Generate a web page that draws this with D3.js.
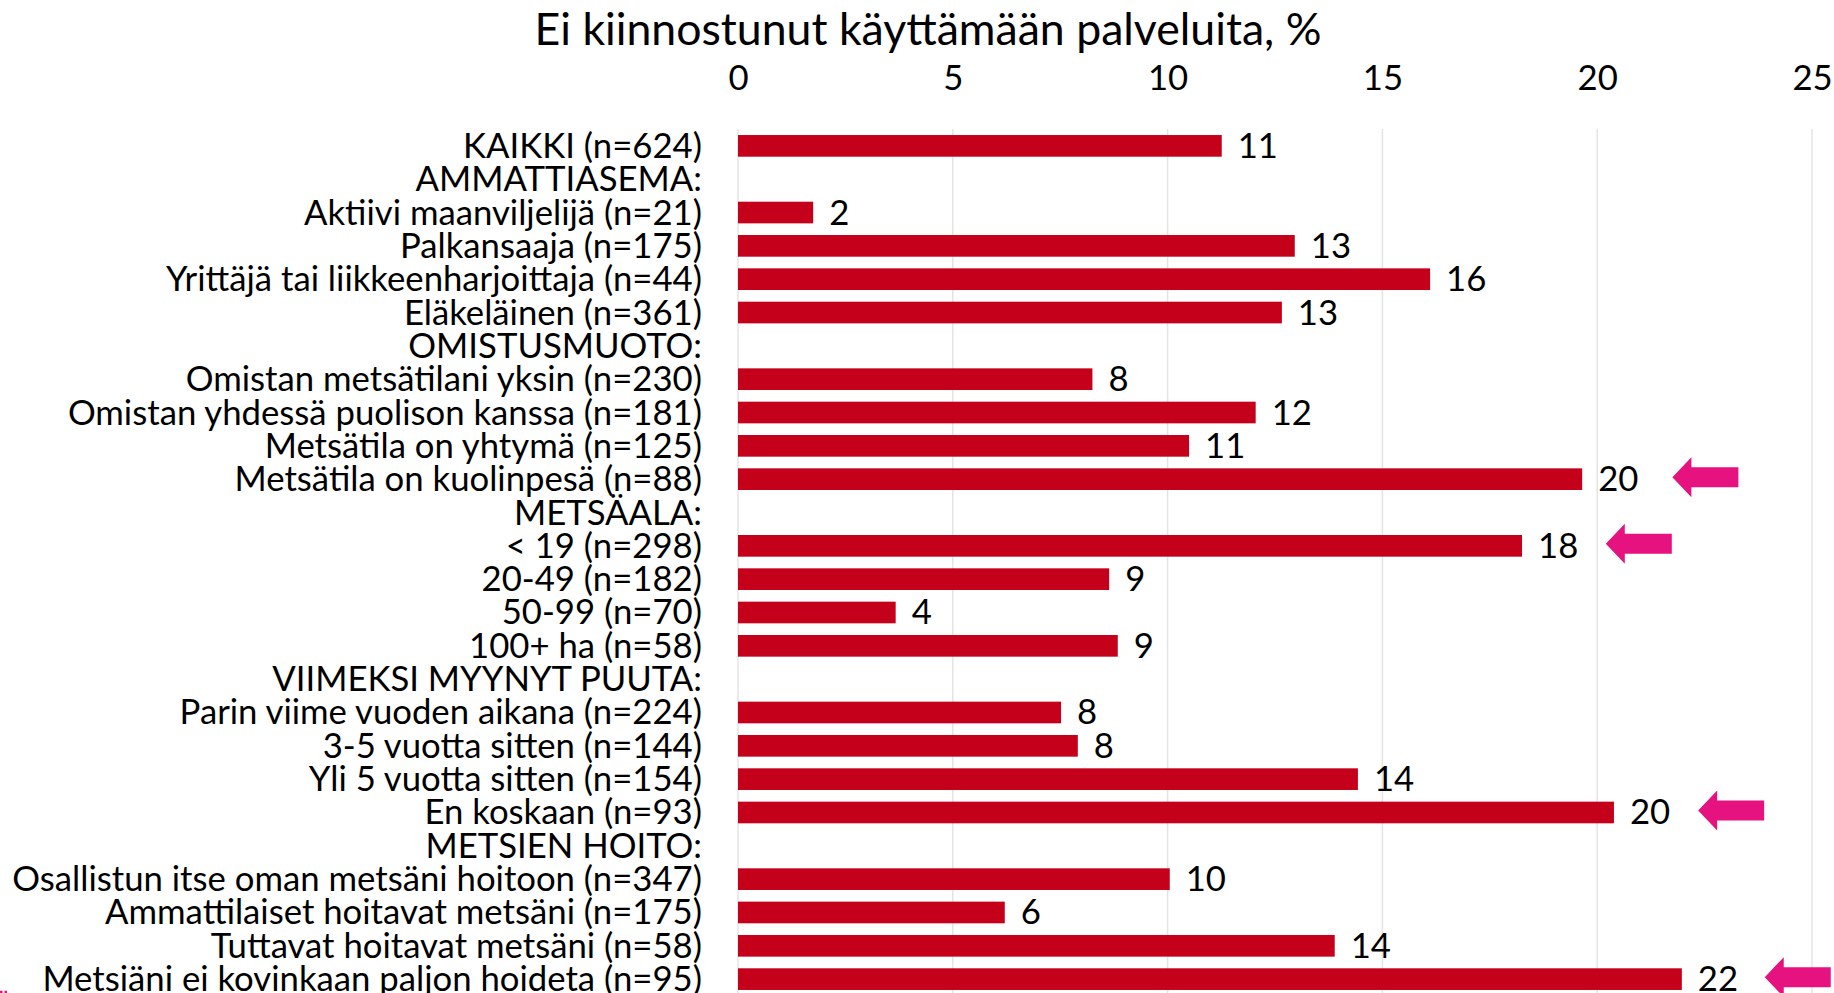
<!DOCTYPE html>
<html>
<head>
<meta charset="utf-8">
<script src="https://cdn.jsdelivr.net/npm/d3@7/dist/d3.min.js"></script>
<style>
  html, body { margin: 0; padding: 0; background: #ffffff; }
  svg { display: block; }
  text { font-family: Lato, "Open Sans", "Noto Sans", sans-serif; fill: #000; }
</style>
</head>
<body>
<svg id="chart" width="1834" height="993"></svg>
<script>
// ---- data ----
const title = "Ei kiinnostunut käyttämään palveluita, %";
const categories = [
  "KAIKKI (n=624)",
  "AMMATTIASEMA:",
  "Aktiivi maanviljelijä (n=21)",
  "Palkansaaja (n=175)",
  "Yrittäjä tai liikkeenharjoittaja (n=44)",
  "Eläkeläinen (n=361)",
  "OMISTUSMUOTO:",
  "Omistan metsätilani yksin (n=230)",
  "Omistan yhdessä puolison kanssa (n=181)",
  "Metsätila on yhtymä (n=125)",
  "Metsätila on kuolinpesä (n=88)",
  "METSÄALA:",
  "< 19 (n=298)",
  "20-49 (n=182)",
  "50-99 (n=70)",
  "100+ ha (n=58)",
  "VIIMEKSI MYYNYT PUUTA:",
  "Parin viime vuoden aikana (n=224)",
  "3-5 vuotta sitten (n=144)",
  "Yli 5 vuotta sitten (n=154)",
  "En koskaan (n=93)",
  "METSIEN HOITO:",
  "Osallistun itse oman metsäni hoitoon (n=347)",
  "Ammattilaiset hoitavat metsäni (n=175)",
  "Tuttavat hoitavat metsäni (n=58)",
  "Metsiäni ei kovinkaan paljon hoideta (n=95)"
];
const values = [
  11.26, null, 1.75, 12.96, 16.11, 12.66,
  null, 8.25, 12.05, 10.5, 19.65,
  null, 18.25, 8.64, 3.67, 8.84,
  null, 7.52, 7.91, 14.43, 20.39,
  null, 10.05, 6.21, 13.89, 21.97
];
const tickValues = [0, 5, 10, 15, 20, 25];
// highlighted rows (arrow tip position in axis units)
const arrowRows = ["Metsätila on kuolinpesä (n=88)", "< 19 (n=298)", "En koskaan (n=93)", "Metsiäni ei kovinkaan paljon hoideta (n=95)"];
const arrowTips = [21.75, 20.2, 22.35, 23.9];

// ---- layout ----
const svg = d3.select("#chart");
const barColor = "#C4001A";
const arrowColor = "#E5127F";
const gridColor = "#E4E4E4";

const x = d3.scaleLinear().domain([0, 25]).range([738, 1812]);
const y = d3.scaleBand().domain(categories).range([129.2, 995.8])
  .paddingInner(0.35).paddingOuter(0.175);

// font size fitting (emulating the reference's Calibri metrics)
const probe = svg.append("text").attr("font-size", 40).text(categories[22]);
const labelSize = 40 * 690 / probe.node().getComputedTextLength();
probe.remove();
const probe2 = svg.append("text").attr("font-size", 40).text(title);
const titleSize = 40 * 787 / probe2.node().getComputedTextLength();
probe2.remove();

// gridlines
svg.append("g").selectAll("line").data(tickValues).join("line")
  .attr("x1", d => x(d)).attr("x2", d => x(d))
  .attr("y1", 129).attr("y2", 993)
  .attr("stroke", gridColor).attr("stroke-width", 1.5);

// title
svg.append("text")
  .attr("x", 928).attr("y", 45)
  .attr("text-anchor", "middle")
  .attr("font-size", titleSize)
  .text(title);

// top axis
const axis = d3.axisTop(x).tickValues(tickValues).tickSize(0).tickPadding(0).tickFormat(d3.format("d"));
const ax = svg.append("g").attr("transform", "translate(0,90)").call(axis);
ax.select(".domain").remove();
ax.selectAll("text").attr("font-size", labelSize).attr("font-family", null).attr("fill", "#000");

// category labels
svg.append("g").selectAll("text").data(categories).join("text")
  .attr("x", 702)
  .attr("y", d => y(d) + y.bandwidth() / 2 + 12)
  .attr("text-anchor", "end")
  .attr("font-size", labelSize)
  .text(d => d);

const rows = categories.map((c, i) => ({ c, v: values[i] })).filter(d => d.v !== null);

// bars
svg.append("g").selectAll("rect").data(rows).join("rect")
  .attr("x", x(0))
  .attr("y", d => y(d.c))
  .attr("width", d => x(d.v) - x(0))
  .attr("height", y.bandwidth())
  .attr("fill", barColor);

// value labels
svg.append("g").selectAll("text").data(rows).join("text")
  .attr("x", d => x(d.v) + 16)
  .attr("y", d => y(d.c) + y.bandwidth() / 2 + 12)
  .attr("font-size", labelSize)
  .text(d => Math.round(d.v));

// arrows
const arrows = arrowRows.map((c, i) => ({ c, tip: arrowTips[i] }));
svg.append("g").selectAll("path").data(arrows).join("path")
  .attr("d", d => {
    const tx = x(d.tip), cy = y(d.c) + y.bandwidth() / 2 - 2;
    const head = 19, len = 66, hh = 20, sh = 10;
    return `M${tx},${cy} L${tx + head},${cy - hh} L${tx + head},${cy - sh} L${tx + len},${cy - sh} L${tx + len},${cy + sh} L${tx + head},${cy + sh} L${tx + head},${cy + hh} Z`;
  })
  .attr("fill", arrowColor);

// small cut-off pink mark at bottom-left
svg.append("line")
  .attr("x1", 0).attr("x2", 8).attr("y1", 992).attr("y2", 992)
  .attr("stroke", arrowColor).attr("stroke-width", 2.5)
  .attr("stroke-dasharray", "2.5,2");
</script>
</body>
</html>
